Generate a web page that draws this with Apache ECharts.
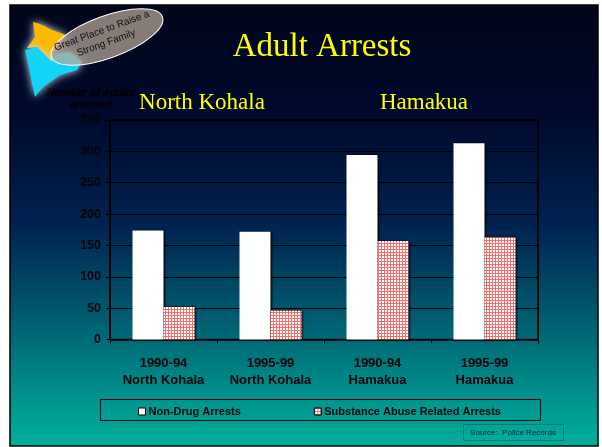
<!DOCTYPE html>
<html><head><meta charset="utf-8">
<style>html,body{margin:0;padding:0;background:#fff}#c{width:602px;height:447px}</style>
<script src="https://cdn.jsdelivr.net/npm/echarts@6/dist/echarts.min.js"></script>
</head><body><div id="c"></div>
<script>
const categories = ['1990-94\nNorth Kohala','1995-99\nNorth Kohala','1990-94\nHamakua','1995-99\nHamakua'];
const nonDrug = [174,172,294,313];
const substance = [52,46,157,163];
const seriesNames = ['Non-Drug Arrests','Substance Abuse Related Arrests'];
const yTitle = 'Number of Adults\narrested';

const pc = document.createElement('canvas'); pc.width = 3; pc.height = 3;
const g = pc.getContext('2d');
g.fillStyle = '#ffffff'; g.fillRect(0,0,3,3);
g.fillStyle = '#f46e6e'; g.fillRect(0,0,3,1); g.fillRect(0,0,1,3);
const pattern = {image: pc, repeat: 'repeat'};

const serif = '"Liberation Serif"', sans = '"Liberation Sans"';
const chart = echarts.init(document.getElementById('c'), null, {renderer:'canvas'});
const txt = (x,y,s,size,color,extra) => ({type:'text',x,y,z:5,style:Object.assign({text:s,font:size+'px '+serif,fill:color,align:'center',verticalAlign:'middle'},extra||{})});
chart.setOption({
  animation:false,
  backgroundColor:'#ffffff',
  grid:{left:110,right:64,top:120,bottom:107.5,show:true,borderColor:'#000',borderWidth:1.5,backgroundColor:'transparent'},
  legend:{
    left:138, top:406, itemGap:73, itemWidth:7, itemHeight:7, padding:0, selectedMode:false,
    icon:'rect',
    itemStyle:{borderColor:'#000',borderWidth:1,shadowBlur:0,shadowColor:'transparent',shadowOffsetX:0,shadowOffsetY:0},
    textStyle:{fontFamily:sans,fontWeight:'bold',fontSize:11,color:'#050505',padding:[0,0,0,-2]},
    data:seriesNames
  },
  xAxis:{type:'category',data:categories,
    axisLine:{lineStyle:{color:'#000',width:1.5}},
    axisTick:{show:true,length:4,lineStyle:{color:'#000',width:1}},
    axisLabel:{fontFamily:sans,fontWeight:'bold',fontSize:13,color:'#050505',lineHeight:17,margin:15,interval:0},
    splitLine:{show:true,interval:(i)=>i===2,lineStyle:{color:'#000',width:1}}
  },
  yAxis:{type:'value',min:0,max:350,interval:50,
    name:yTitle,nameLocation:'end',nameGap:9,
    nameTextStyle:{fontFamily:sans,fontWeight:'bold',fontStyle:'italic',fontSize:10.5,color:'#000',lineHeight:12,align:'center',padding:[0,38,0,0]},
    axisLine:{show:true,lineStyle:{color:'#000',width:1.5}},
    axisTick:{show:true,length:4,lineStyle:{color:'#000',width:1}},
    axisLabel:{fontFamily:sans,fontWeight:'bold',fontSize:12.5,color:'#050505',margin:9},
    splitLine:{show:true,lineStyle:{color:'#000',width:1}}
  },
  series:[
    {name:seriesNames[0],type:'bar',data:nonDrug,barWidth:31,barGap:'0%',z:3,
     itemStyle:{color:'#fff',borderWidth:0,shadowColor:'#000',shadowOffsetX:1.5,shadowOffsetY:0,shadowBlur:2}},
    {name:seriesNames[1],type:'bar',data:substance,barWidth:31,z:3,
     itemStyle:{color:pattern,borderWidth:0,shadowColor:'#000',shadowOffsetX:1,shadowOffsetY:0,shadowBlur:2}}
  ],
  graphic:[
    {type:'rect',z:-10,silent:true,shape:{x:10,y:5,width:588,height:441},
     style:{fill:new echarts.graphic.LinearGradient(0,0,0,1,[
       {offset:0,color:'#000518'},{offset:0.25,color:'#00092c'},{offset:0.5,color:'#00234f'},
       {offset:0.72,color:'#005f70'},{offset:0.86,color:'#008a8a'},{offset:1,color:'#00b09c'}]),
       stroke:'#000',lineWidth:1.5}},
    // island map
    {type:'polygon',z:1,silent:true,shape:{points:[[33,22],[40,24],[52,30],[66,35],[58,46],[53,53],[52,62],[37,47],[27,48],[35,37]]},
     style:{fill:'#fdb900',shadowBlur:8,shadowColor:'#dceeff'}},
    {type:'polygon',z:1,silent:true,shape:{points:[[25,50],[37,47],[52,62],[57,54],[70,52],[82,62],[77,70],[60,75],[43,87],[35,97],[32,83],[28,63]]},
     style:{fill:'#12d4f6',shadowBlur:8,shadowColor:'#bfe8ff'}},
    // slogan ellipse
    {type:'ellipse',z:2,silent:true,x:107,y:37,rotation:20*Math.PI/180,
     shape:{cx:0,cy:0,rx:59,ry:21},
     style:{fill:'rgba(185,170,155,0.72)',stroke:'#fff',lineWidth:1}},
    {type:'text',z:3,silent:true,x:104,y:37,rotation:20*Math.PI/180,
     style:{text:'Great Place to Raise a\nStrong Family',font:'10px '+sans,fill:'#111',align:'center',verticalAlign:'middle',lineHeight:13}},
    txt(322,47,'Adult Arrests',33,'#ffff00'),
    txt(202,103,'North Kohala',23,'#ffff00'),
    txt(424,103,'Hamakua',23,'#ffff00'),
    // legend box
    {type:'rect',z:1,silent:true,shape:{x:100.5,y:399.5,width:440,height:21},style:{fill:'transparent',stroke:'#000',lineWidth:1}},
    // source box
    {type:'rect',z:1,silent:true,shape:{x:463.5,y:424.5,width:100,height:16},style:{fill:'transparent',stroke:'#007f78',lineWidth:1}},
    {type:'text',z:3,silent:true,x:513,y:432.5,style:{text:'Source:  Police Records',font:'8px '+sans,fill:'#123',align:'center',verticalAlign:'middle'}}
  ]
});
</script></body></html>
